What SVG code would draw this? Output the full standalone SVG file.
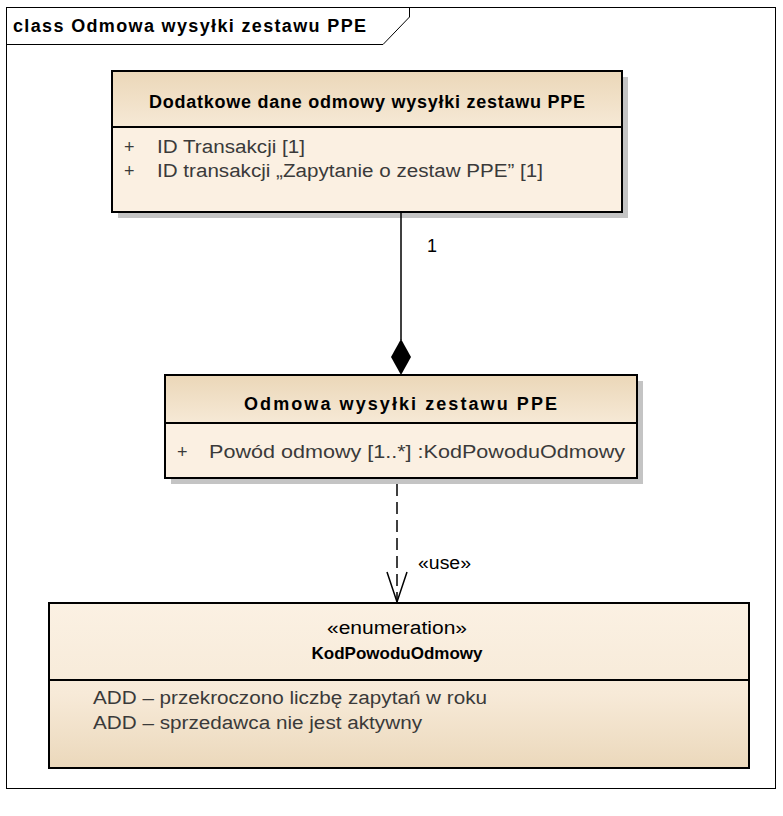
<svg xmlns="http://www.w3.org/2000/svg" width="783" height="816" viewBox="0 0 783 816">
<defs>
<linearGradient id="hdr" x1="0" y1="0" x2="0" y2="1">
<stop offset="0" stop-color="#EBD7B8"/>
<stop offset="1" stop-color="#F6E9D6"/>
</linearGradient>
<linearGradient id="enumg" x1="0" y1="0" x2="0" y2="1">
<stop offset="0" stop-color="#FBF1E3"/>
<stop offset="0.55" stop-color="#F7EAD8"/>
<stop offset="1" stop-color="#EBD8BB"/>
</linearGradient>
</defs>
<style>
.frame{fill:none;stroke:#000;stroke-width:1}
.box{stroke:#000;stroke-width:2}
.shadow{fill:#C4C4C4}
.body{fill:#FBF0E2}
.t{font-family:"Liberation Sans",Arial,sans-serif;fill:#000}
.b{font-weight:bold;font-size:18px}
.a{font-size:18px;fill:#3a3a3a}
.line{stroke:#000;stroke-width:1.5;fill:none}
</style>
<rect x="0" y="0" width="783" height="816" fill="#fff"/>
<g id="frame">
<rect class="frame" x="6.5" y="7.5" width="769" height="781"/>
<path class="frame" d="M6.5,44.5 H383 L409.5,17 V7.5"/>
<text class="t b" x="13" y="32" textLength="353" lengthAdjust="spacing">class Odmowa wysyłki zestawu PPE</text>
</g>
<g id="node-dodatkowe">
<rect class="shadow" x="118" y="77" width="510" height="141"/>
<rect class="body" x="112" y="71" width="510" height="141"/>
<rect x="112" y="71" width="510" height="56" fill="url(#hdr)"/>
<rect class="box" x="112" y="71" width="510" height="141" fill="none"/>
<line class="box" x1="112" y1="127" x2="622" y2="127"/>
<text class="t b" x="149" y="108" textLength="436" lengthAdjust="spacing">Dodatkowe dane odmowy wysyłki zestawu PPE</text>
<text class="t a" x="124" y="153">+</text>
<text class="t a" x="157" y="153" textLength="148" lengthAdjust="spacingAndGlyphs">ID Transakcji [1]</text>
<text class="t a" x="124" y="177">+</text>
<text class="t a" x="157" y="177" textLength="386" lengthAdjust="spacingAndGlyphs">ID transakcji „Zapytanie o zestaw PPE” [1]</text>
</g>
<g id="node-odmowa">
<rect class="shadow" x="171" y="381" width="472" height="103"/>
<rect class="body" x="165" y="375" width="472" height="103"/>
<rect x="165" y="375" width="472" height="48" fill="url(#hdr)"/>
<rect class="box" x="165" y="375" width="472" height="103" fill="none"/>
<line class="box" x1="165" y1="423" x2="637" y2="423"/>
<text class="t b" x="244" y="410" textLength="313" lengthAdjust="spacing">Odmowa wysyłki zestawu PPE</text>
<text class="t a" x="177" y="458">+</text>
<text class="t a" x="209" y="458" textLength="416" lengthAdjust="spacingAndGlyphs">Powód odmowy [1..*]  :KodPowoduOdmowy</text>
</g>
<g id="node-enum">
<rect x="49" y="603" width="700" height="165" fill="url(#enumg)"/>
<rect class="box" x="49" y="603" width="700" height="165" fill="none"/>
<line class="box" x1="49" y1="680" x2="749" y2="680"/>
<text class="t a" x="327" y="634" style="fill:#000" textLength="140" lengthAdjust="spacingAndGlyphs">«enumeration»</text>
<text class="t b" x="397" y="659" text-anchor="middle" style="font-size:17px">KodPowoduOdmowy</text>
<text class="t a" x="93" y="704" textLength="394" lengthAdjust="spacingAndGlyphs">ADD – przekroczono liczbę zapytań w roku</text>
<text class="t a" x="93" y="729" textLength="329" lengthAdjust="spacingAndGlyphs">ADD – sprzedawca nie jest aktywny</text>
</g>
<g id="connectors">
<line class="line" x1="401" y1="213" x2="401" y2="340"/>
<polygon points="401,339 411,357 401,375 391,357" fill="#000"/>
<text class="t a" x="427" y="252" style="fill:#000">1</text>
<line class="line" x1="397" y1="484" x2="397" y2="602" stroke-dasharray="12,6"/>
<polyline class="line" points="387,572 397,602 407,572"/>
<text class="t a" x="418" y="569" style="fill:#000" textLength="53" lengthAdjust="spacingAndGlyphs">«use»</text>
</g>
</svg>
